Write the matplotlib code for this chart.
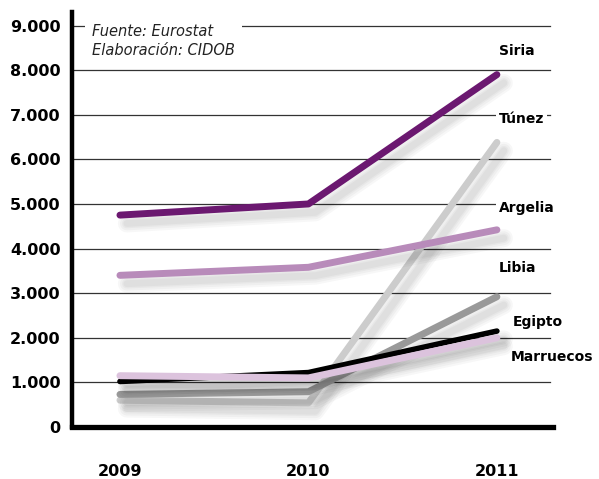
import matplotlib.pyplot as plt
import matplotlib.patheffects as pe

# datos (Eurostat)
years = [2009, 2010, 2011]
paises = ['Túnez', 'Libia', 'Egipto', 'Marruecos', 'Argelia', 'Siria']
tunez = [600, 540, 6380]
libia = [730, 790, 2920]
egipto = [1020, 1220, 2150]
marruecos = [1150, 1100, 2000]
argelia = [3400, 3580, 4420]
siria = [4750, 5000, 7900]
yticks = [0, 1000, 2000, 3000, 4000, 5000, 6000, 7000, 8000, 9000]
ytick_labels = ['0', '1.000', '2.000', '3.000', '4.000', '5.000',
                '6.000', '7.000', '8.000', '9.000']

series = [tunez, libia, egipto, marruecos, argelia, siria]
colores = ['#cccccc', '#999999', '#000000', '#dcc3dd', '#b88bba', '#6b1870']
anchos = [5, 5, 4, 5, 5, 5]

fig = plt.figure(figsize=(5.99, 4.79), dpi=100)
ax = fig.add_axes([0.120, 0.1086, 0.803, 0.866])

# sombra difusa
sombra = [pe.SimpleLineShadow(offset=(5, -6), shadow_color='k', alpha=0.03, linewidth=w)
          for w in (13, 10, 7, 5)] + [pe.Normal()]

for i, (vals, c, lw) in enumerate(zip(series, colores, anchos)):
    ax.plot(years, vals, color=c, lw=lw, solid_capstyle='round',
            solid_joinstyle='round', zorder=3 + i, path_effects=sombra)

for y in yticks[1:]:
    ax.plot([2008.745, 2011.28], [y, y], color='#333333', lw=0.9, zorder=1)

ax.set_xlim(2008.745, 2011.297)
ax.set_ylim(0, 9300)
ax.set_xticks(years)
ax.set_xticklabels([str(y) for y in years], fontsize=11.5, fontweight='bold')
ax.set_yticks(yticks)
ax.set_yticklabels(ytick_labels, fontsize=11.5, fontweight='bold')
ax.tick_params(axis='x', length=0, pad=27)
ax.tick_params(axis='y', length=0, pad=8)

for s in ['top', 'right']:
    ax.spines[s].set_visible(False)
ax.spines['left'].set_linewidth(3.2)
ax.spines['bottom'].set_linewidth(3.8)
ax.spines['left'].set_zorder(20)
ax.spines['bottom'].set_zorder(20)

caja = dict(facecolor='white', edgecolor='none', pad=2)
ax.text(2008.85, 9030, 'Fuente: Eurostat\nElaboración: CIDOB', fontsize=10.5,
        style='italic', color='#222222', va='top', ha='left',
        linespacing=1.3, bbox=dict(facecolor='white', edgecolor='none', pad=5), zorder=2)

etiquetas = [(2011.01, 8420, 'Siria'), (2011.01, 6910, 'Túnez'),
             (2011.01, 4915, 'Argelia'), (2011.01, 3570, 'Libia'),
             (2011.085, 2350, 'Egipto'), (2011.075, 1570, 'Marruecos')]
for x, y, t in etiquetas:
    ax.text(x, y, t, fontsize=10, fontweight='bold', va='center', ha='left',
            bbox=caja, zorder=2)

fig.savefig('out.png', dpi=100)
